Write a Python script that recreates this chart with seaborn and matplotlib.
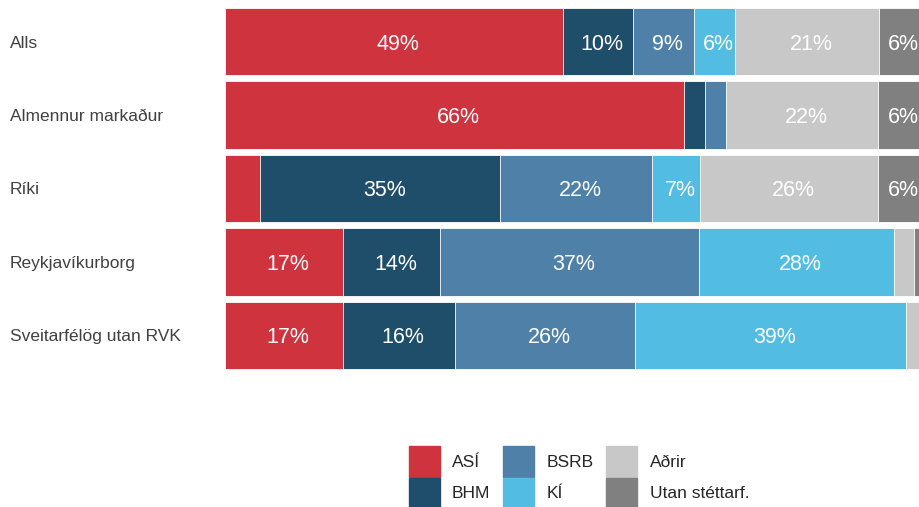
import numpy as np
import pandas as pd
import matplotlib
matplotlib.use("Agg")
import matplotlib.pyplot as plt
import matplotlib.patches as mpatches
import seaborn as sns

# Gögn lesin af myndinni (hlutfall í %)
flokkar = ["Alls", "Almennur markaður", "Ríki", "Reykjavíkurborg", "Sveitarfélög utan RVK"]
felog = ["ASÍ", "BHM", "BSRB", "KÍ", "Aðrir", "Utan stéttarf."]

asi = [48.6, 66.1, 5.0, 17.0, 17.0]
bhm = [10.1, 3.0, 34.6, 14.0, 16.1]
bsrb = [8.8, 3.0, 21.9, 37.2, 25.9]
ki = [5.9, 0.0, 6.9, 28.1, 39.0]
adrir = [20.7, 21.9, 25.6, 2.9, 1.9]
utan = [5.9, 6.0, 6.0, 0.8, 0.1]

litir = ["#cf333d", "#1f4e6b", "#4f81a8", "#52bce3", "#c8c8c8", "#808080"]

df = pd.DataFrame({"Flokkur": flokkar, "ASÍ": asi, "BHM": bhm, "BSRB": bsrb,
                   "KÍ": ki, "Aðrir": adrir, "Utan stéttarf.": utan})
cum = df[felog].cumsum(axis=1)

sns.set_theme(style="white")
plt.rcParams["font.family"] = ["Liberation Sans", "DejaVu Sans"]

fig = plt.figure(figsize=(9.19, 5.07), dpi=100)
ax = fig.add_axes([225 / 919, 1 - 372 / 507, 695 / 919, 367 / 507])

# staflaðar súlur: teiknum uppsafnaðar summur aftast fyrst
for i in range(len(felog) - 1, -1, -1):
    sns.barplot(x=cum[felog[i]], y=df["Flokkur"], color=litir[i], orient="h",
                width=0.92, edgecolor="white", linewidth=0.6, saturation=1, ax=ax)

# gildi inn í súlunum
for r in range(len(flokkar)):
    for i, f in enumerate(felog):
        v = df.loc[r, f]
        if v >= 5.5:
            ax.text(cum.loc[r, f] - v / 2 + 0.6, r, f"{v:.0f}%", color="white",
                    ha="center", va="center_baseline", fontsize=15.5)

ax.set_xlim(0, 100)
ax.set_ylim(4.5, -0.5)
ax.set_xlabel("")
ax.set_ylabel("")
ax.set_xticks([])
sns.despine(ax=ax, left=True, bottom=True)
ax.tick_params(axis="y", length=0, pad=215 * 0.72, labelsize=12.5, labelcolor="#404040")
for lab in ax.get_yticklabels():
    lab.set_ha("left")

handles = [mpatches.Patch(color=c, label=f) for c, f in zip(litir, felog)]
fig.legend(handles=handles, ncol=3, loc="center", bbox_to_anchor=(0.630, 0.059),
           frameon=False, fontsize=12.5, handlelength=1.78, handleheight=2.37,
           handletextpad=0.7, columnspacing=0.75, labelspacing=0.05, borderpad=0)

fig.savefig("out.png", dpi=100)
